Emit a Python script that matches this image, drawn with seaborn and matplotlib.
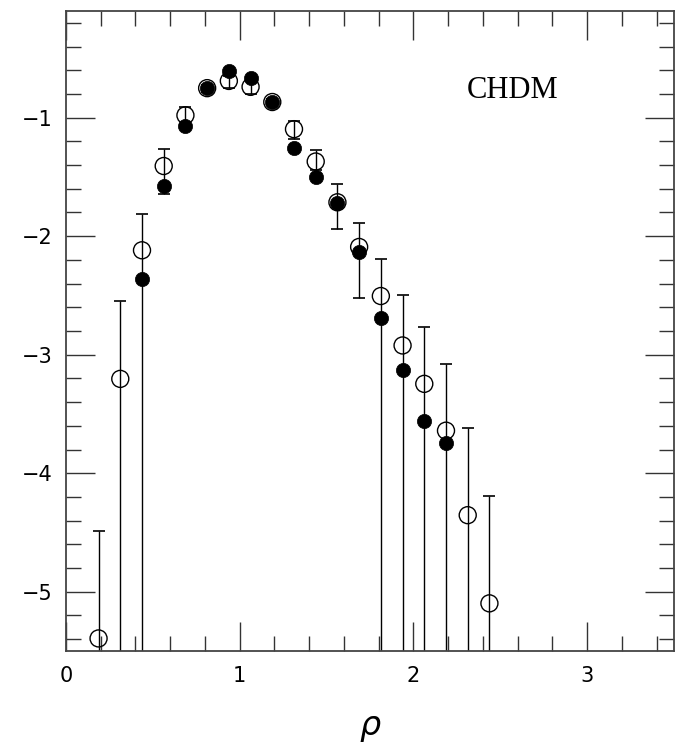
import numpy as np
import pandas as pd
import matplotlib
matplotlib.use("Agg")
import matplotlib.pyplot as plt
from matplotlib.ticker import MultipleLocator
import seaborn as sns

# ---- data ----
rho_open = [0.1875, 0.3125, 0.4375, 0.5625, 0.6875, 0.8125, 0.9375, 1.0625, 1.1875,
            1.3125, 1.4375, 1.5625, 1.6875, 1.8125, 1.9375, 2.0625, 2.1875, 2.3125, 2.4375]
y_open = [-5.394, -3.204, -2.119, -1.408, -0.980, -0.751, -0.690, -0.740, -0.868,
          -1.097, -1.370, -1.714, -2.091, -2.505, -2.922, -3.246, -3.641, -4.354, -5.098]
# upper / lower ends of the error bars (lower value -6 = extends below the plot)
err_top = [-4.49, -2.55, -1.81, -1.265, -0.914, -0.725, -0.645, -0.690, -0.845,
           -1.025, -1.275, -1.562, -1.891, -2.195, -2.499, -2.770, -3.077, -3.616, -4.196]
err_bot = [-6.0, -6.0, -6.0, -1.648, -1.054, -0.780, -0.751, -0.800, -0.895,
           -1.178, -1.445, -1.939, -2.522, -6.0, -6.0, -6.0, -6.0, -6.0, -6.0]

rho_fill = [0.4375, 0.5625, 0.6875, 0.8125, 0.9375, 1.0625, 1.1875, 1.3125,
            1.4375, 1.5625, 1.6875, 1.8125, 1.9375, 2.0625, 2.1875]
y_fill = [-2.358, -1.578, -1.070, -0.751, -0.603, -0.667, -0.870, -1.259,
          -1.502, -1.716, -2.130, -2.691, -3.125, -3.556, -3.748]

label_text = "CHDM"
xlabel = r"$\rho$"

df_open = pd.DataFrame({"rho": rho_open, "y": y_open, "top": err_top, "bot": err_bot})
df_fill = pd.DataFrame({"rho": rho_fill, "y": y_fill})

sns.set_theme(style="ticks")
plt.rcParams["font.family"] = ["DejaVu Sans"]
plt.rcParams["mathtext.fontset"] = "dejavusans"

fig = plt.figure(figsize=(6.82, 7.48), dpi=100)
ax = fig.add_axes([66 / 682, 97 / 748, 608 / 682, 640 / 748])

yerr = np.vstack([df_open["y"] - df_open["bot"], df_open["top"] - df_open["y"]])
ax.errorbar(df_open["rho"], df_open["y"], yerr=yerr, fmt="none", ecolor="black",
            elinewidth=1.0, capsize=4, capthick=1.2, zorder=2)

sns.scatterplot(data=df_open, x="rho", y="y", ax=ax, marker="o", s=150,
                facecolor="none", edgecolor="black", linewidth=1.0, zorder=3)
sns.scatterplot(data=df_fill, x="rho", y="y", ax=ax, marker="o", s=105,
                color="black", edgecolor="black", linewidth=0.5, zorder=4)

ax.set_xlim(0, 3.5)
ax.set_ylim(-5.5, -0.1)
ax.xaxis.set_major_locator(MultipleLocator(1))
ax.xaxis.set_minor_locator(MultipleLocator(0.2))
ax.yaxis.set_major_locator(MultipleLocator(1))
ax.yaxis.set_minor_locator(MultipleLocator(0.2))

ax.tick_params(which="both", direction="in", top=True, right=True,
               color="#333333", width=1.0, labelsize=15, labelcolor="black")
ax.tick_params(axis="y", pad=10)
ax.tick_params(axis="x", pad=11)
ax.tick_params(which="major", length=21)
ax.tick_params(which="minor", length=10.5)
for sp in ax.spines.values():
    sp.set_visible(True)
    sp.set_color("#444444")
    sp.set_linewidth(1.3)

ax.set_xlabel(xlabel, fontsize=24, labelpad=18, color="black")
ax.set_ylabel("")
ax.text(0.734, 0.875, label_text, transform=ax.transAxes, ha="center", va="center",
        fontsize=22, family="Liberation Serif", color="black")

fig.savefig("out.png", dpi=100)
